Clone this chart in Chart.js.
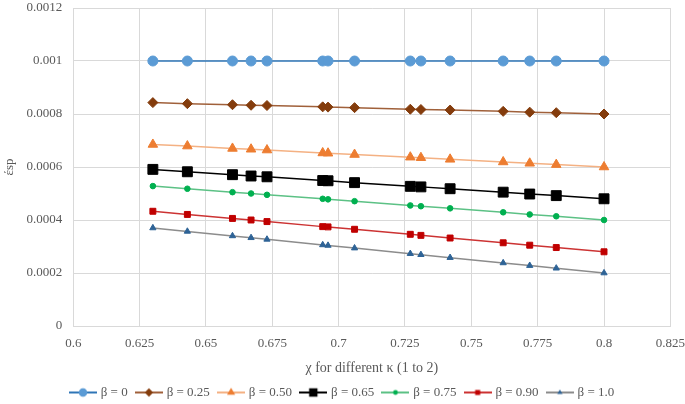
<!DOCTYPE html>
<html>
<head>
<meta charset="utf-8">
<script src="https://cdn.jsdelivr.net/npm/chart.js@4.4.1/dist/chart.umd.min.js"></script>
<style>
  html, body { margin: 0; padding: 0; background: #fff; }
</style>
</head>
<body>
<canvas id="chart" width="685" height="404"></canvas>
<script>
let chi = [0.630, 0.643, 0.660, 0.667, 0.673, 0.694, 0.696, 0.706, 0.727, 0.731, 0.742, 0.762, 0.772, 0.782, 0.800];

let beta0   = [0.001, 0.001, 0.001, 0.001, 0.001, 0.001, 0.001, 0.001, 0.001, 0.001, 0.001, 0.001, 0.001, 0.001, 0.001];
let beta025 = [0.000843, 0.000839, 0.000835, 0.000833, 0.000832, 0.000827, 0.000826, 0.000824, 0.000818, 0.000817, 0.000815, 0.000810, 0.000807, 0.000805, 0.000800];
let beta050 = [0.000685, 0.000679, 0.000670, 0.000667, 0.000664, 0.000653, 0.000652, 0.000647, 0.000637, 0.000635, 0.000629, 0.000619, 0.000614, 0.000609, 0.000600];
let beta065 = [0.000591, 0.000582, 0.000571, 0.000566, 0.000563, 0.000549, 0.000548, 0.000541, 0.000527, 0.000525, 0.000518, 0.000505, 0.000498, 0.000492, 0.000480];
let beta075 = [0.000528, 0.000518, 0.000505, 0.000500, 0.000495, 0.000480, 0.000478, 0.000471, 0.000455, 0.000452, 0.000444, 0.000429, 0.000421, 0.000414, 0.000400];
let beta090 = [0.000433, 0.000421, 0.000406, 0.000400, 0.000394, 0.000375, 0.000374, 0.000365, 0.000346, 0.000342, 0.000332, 0.000314, 0.000305, 0.000296, 0.000280];
let beta100 = [0.000370, 0.000357, 0.000340, 0.000333, 0.000327, 0.000306, 0.000304, 0.000294, 0.000273, 0.000269, 0.000258, 0.000238, 0.000228, 0.000218, 0.000200];

let seriesNames = ["β = 0", "β = 0.25", "β = 0.50", "β = 0.65", "β = 0.75", "β = 0.90", "β = 1.0"];

// look of each series: line colour, marker colour, marker shape, marker size
let looks = [
    { line: "#2E75B6", mark: "#5B9BD5", shape: "circle",   r: 5   },
    { line: "#A0603A", mark: "#843C0C", shape: "rectRot",  r: 5   },
    { line: "#F4B183", mark: "#ED7D31", shape: "triangle", r: 5.5 },
    { line: "#000000", mark: "#000000", shape: "rect",     r: 7   },
    { line: "#5CC185", mark: "#00B050", shape: "circle",   r: 2.8 },
    { line: "#CC3333", mark: "#C00000", shape: "rect",     r: 4.2 },
    { line: "#8C8C8C", mark: "#2E6396", shape: "triangle", r: 3.6 },
];

let allSeries = [beta0, beta025, beta050, beta065, beta075, beta090, beta100];

let textColor = "#595959";
let gridColor = "#D9D9D9";
let serif = "'Liberation Serif', 'Times New Roman', serif";

// small picture for the legend: line with the marker in the middle
function legendIcon(look) {
    let c = document.createElement("canvas");
    c.width = 28;
    c.height = 12;
    let g = c.getContext("2d");
    g.strokeStyle = look.line;
    g.lineWidth = 2;
    g.beginPath();
    g.moveTo(0, 6);
    g.lineTo(28, 6);
    g.stroke();
    g.fillStyle = look.mark;
    let r = look.r * 0.85;
    g.beginPath();
    if (look.shape == "circle") {
        g.arc(14, 6, r, 0, Math.PI * 2);
    } else if (look.shape == "rect") {
        let s = r * Math.SQRT1_2;
        g.rect(14 - s, 6 - s, s * 2, s * 2);
    } else if (look.shape == "rectRot") {
        g.moveTo(14, 6 - r);
        g.lineTo(14 + r, 6);
        g.lineTo(14, 6 + r);
        g.lineTo(14 - r, 6);
    } else {
        g.moveTo(14, 6 - r);
        g.lineTo(14 + r * 0.866, 6 + r * 0.5);
        g.lineTo(14 - r * 0.866, 6 + r * 0.5);
    }
    g.closePath();
    g.fill();
    return c;
}

let datasets = allSeries.map((values, i) => ({
    label: seriesNames[i],
    data: chi.map((x, k) => ({ x: x, y: values[k] })),
    showLine: true,
    borderColor: looks[i].line,
    borderWidth: 1.5,
    pointStyle: looks[i].shape,
    pointRadius: looks[i].r,
    pointBackgroundColor: looks[i].mark,
    pointBorderColor: looks[i].mark,
    pointBorderWidth: 1,
    order: 7 - i,
}));

let icons = looks.map(legendIcon);

new Chart(document.getElementById("chart"), {
    type: "scatter",
    data: { datasets: datasets },
    options: {
        responsive: false,
        animation: false,
        layout: { padding: { left: 1, right: 0, top: 0, bottom: -5 } },
        plugins: {
            tooltip: { enabled: false },
            legend: {
                position: "bottom",
                labels: {
                    usePointStyle: true,
                    pointStyleWidth: 22.5,
                    padding: 10,
                    color: textColor,
                    font: { family: serif, size: 13 },
                    generateLabels: (chart) => chart.data.datasets.map((ds, i) => ({
                        text: ds.label,
                        pointStyle: icons[i],
                        fillStyle: looks[i].mark,
                        strokeStyle: looks[i].line,
                        lineWidth: 0,
                        fontColor: textColor,
                        hidden: false,
                        datasetIndex: i,
                    })),
                },
            },
        },
        scales: {
            x: {
                type: "linear",
                min: 0.6,
                max: 0.825,
                ticks: {
                    stepSize: 0.025,
                    padding: 0,
                    color: textColor,
                    font: { family: serif, size: 13 },
                    callback: (v) => String(Number(v.toFixed(3))),
                },
                grid: { color: gridColor, drawTicks: true, tickLength: 10, tickColor: "rgba(0,0,0,0)" },
                border: { color: gridColor },
                title: {
                    display: true,
                    text: "χ for different κ (1 to 2)",
                    color: textColor,
                    font: { family: serif, size: 14, lineHeight: 1.0 },
                    padding: { top: 9.4, bottom: 1 },
                },
            },
            y: {
                min: 0,
                max: 0.0012,
                // top label sits half cut at the edge, like the original
                afterFit: (scale) => { scale.paddingTop = 4; },
                ticks: {
                    stepSize: 0.0002,
                    padding: 0,
                    color: textColor,
                    font: { family: serif, size: 13 },
                    callback: (v) => String(Number(v.toFixed(4))),
                },
                grid: { color: gridColor, drawTicks: true, tickLength: 11, tickColor: "rgba(0,0,0,0)" },
                border: { color: gridColor },
                title: {
                    display: true,
                    text: "έsp",
                    color: textColor,
                    font: { family: serif, size: 13, lineHeight: 1.0 },
                    padding: { top: 2.5, bottom: 10 },
                },
            },
        },
    },
});
</script>
</body>
</html>
